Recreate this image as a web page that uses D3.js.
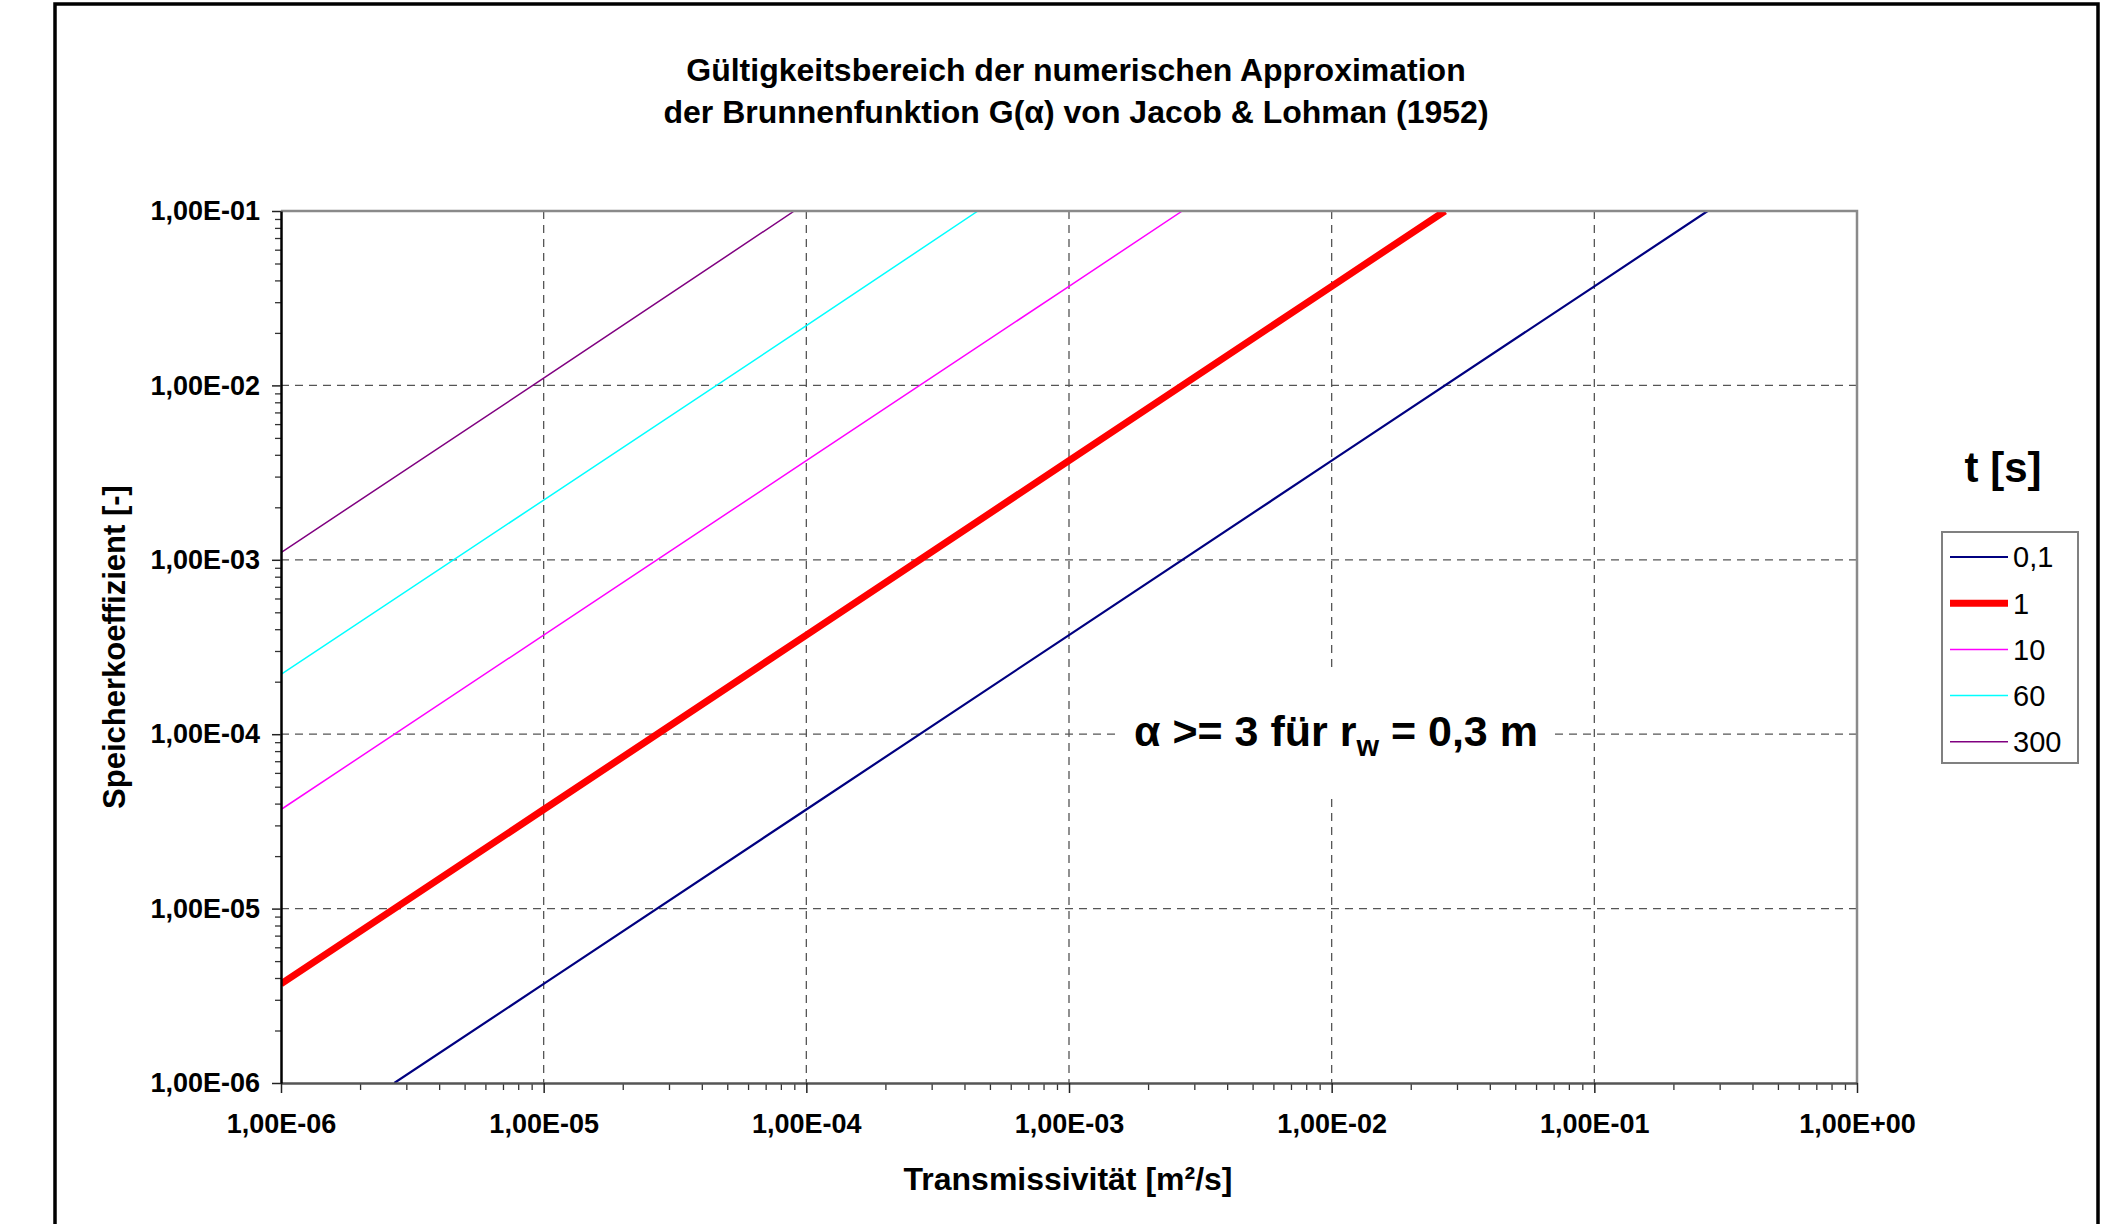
<!DOCTYPE html>
<html>
<head>
<meta charset="utf-8">
<script src="https://cdn.jsdelivr.net/npm/d3@7"></script>
<style>
    body { margin: 0; background: #fff; }
    #chart-area { width: 2109px; height: 1224px; }
    text { font-family: "Liberation Sans", Arial, sans-serif; }
</style>
</head>
<body>
<div id="chart-area"></div>
<script>
// t [s] of each curve (legend order)
const timeLabels = ["0,1", "1", "10", "60", "300"];

// Transmissivität [m²/s] / Speicherkoeffizient [-] points
const t01Trans = [2.7e-6, 1e-5, 1e-4, 1e-3, 1e-2, 1e-1, 2.7e-1];
const t01Stor = [1e-6, 3.7e-6, 3.7e-5, 3.7e-4, 3.7e-3, 3.7e-2, 1e-1];

const t1Trans = [1e-6, 1e-5, 1e-4, 1e-3, 1e-2, 2.7e-2];
const t1Stor = [3.7e-6, 3.7e-5, 3.7e-4, 3.7e-3, 3.7e-2, 1e-1];

const t10Trans = [1e-6, 1e-5, 1e-4, 1e-3, 2.7e-3];
const t10Stor = [3.7e-5, 3.7e-4, 3.7e-3, 3.7e-2, 1e-1];

const t60Trans = [1e-6, 1e-5, 1e-4, 4.5e-4];
const t60Stor = [2.2e-4, 2.2e-3, 2.2e-2, 1e-1];

const t300Trans = [1e-6, 1e-5, 9e-5];
const t300Stor = [1.1e-3, 1.1e-2, 1e-1];

// axis ticks
const xTicks = [1e-6, 1e-5, 1e-4, 1e-3, 1e-2, 1e-1, 1e0];
const yTicks = [1e-6, 1e-5, 1e-4, 1e-3, 1e-2, 1e-1];

// styles
const lineColors = ["#000080", "#ff0000", "#ff00ff", "#00ffff", "#800080"];
const lineWidths = [2.2, 7, 1.5, 1.5, 1.5];


ValidityChart = function(_parentElement) {
    this.parentElement = _parentElement;
    this.initVis();
};

ValidityChart.prototype.initVis = function() {
    var vis = this;

    vis.width = 2109;
    vis.height = 1224;
    vis.left = 281;
    vis.right = 1857;
    vis.top = 211;
    vis.bottom = 1083;

    vis.svg = d3.select("#" + vis.parentElement)
        .append("svg")
        .attr("width", vis.width)
        .attr("height", vis.height);

    vis.x = d3.scaleLog().domain([1e-6, 1]).range([vis.left, vis.right]);
    vis.y = d3.scaleLog().domain([1e-6, 1e-1]).range([vis.bottom, vis.top]);

    vis.series = [
        t01Trans.map((d, i) => ({ T: d, S: t01Stor[i] })),
        t1Trans.map((d, i) => ({ T: d, S: t1Stor[i] })),
        t10Trans.map((d, i) => ({ T: d, S: t10Stor[i] })),
        t60Trans.map((d, i) => ({ T: d, S: t60Stor[i] })),
        t300Trans.map((d, i) => ({ T: d, S: t300Stor[i] }))
    ];

    // outer chart frame (cut off at the bottom)
    vis.svg.append("path")
        .attr("d", `M55,${vis.height} L55,4 L2098,4 L2098,${vis.height}`)
        .attr("fill", "none")
        .attr("stroke", "#000")
        .attr("stroke-width", 3.5);

    // title
    const title = vis.svg.append("text")
        .attr("text-anchor", "middle")
        .attr("font-size", "32px")
        .attr("font-weight", "bold");
    title.append("tspan").attr("x", 1076).attr("y", 81)
        .text("Gültigkeitsbereich der numerischen Approximation");
    title.append("tspan").attr("x", 1076).attr("y", 123)
        .text("der Brunnenfunktion G(α) von Jacob & Lohman (1952)");

    vis.drawGrid();
    vis.drawAnnotation();
    vis.drawLines();
    vis.drawAxes();
    vis.drawLegend();
};

ValidityChart.prototype.drawGrid = function() {
    var vis = this;

    const grid = vis.svg.append("g")
        .attr("stroke", "#555")
        .attr("stroke-width", 1.3)
        .attr("stroke-dasharray", "8,6");

    grid.selectAll(".vgrid")
        .data(xTicks.slice(1, -1))
        .enter()
        .append("line")
        .attr("x1", d => vis.x(d))
        .attr("x2", d => vis.x(d))
        .attr("y1", vis.top)
        .attr("y2", vis.bottom);

    grid.selectAll(".hgrid")
        .data(yTicks.slice(1, -1))
        .enter()
        .append("line")
        .attr("x1", vis.left)
        .attr("x2", vis.right)
        .attr("y1", d => vis.y(d))
        .attr("y2", d => vis.y(d));
};

ValidityChart.prototype.drawAnnotation = function() {
    var vis = this;

    // white box behind the text hides the grid
    vis.svg.append("rect")
        .attr("x", 1117)
        .attr("y", 673)
        .attr("width", 438)
        .attr("height", 122)
        .attr("fill", "#fff");

    const note = vis.svg.append("text")
        .attr("x", 1336)
        .attr("y", 746)
        .attr("text-anchor", "middle")
        .attr("font-size", "43px")
        .attr("font-weight", "bold");
    note.append("tspan").text("α >= 3 für r");
    note.append("tspan").attr("dy", 10).attr("font-size", "29px").text("w");
    note.append("tspan").attr("dy", -10).text(" = 0,3 m");
};

ValidityChart.prototype.drawLines = function() {
    var vis = this;

    vis.svg.append("clipPath")
        .attr("id", "plot-clip")
        .append("rect")
        .attr("x", vis.left)
        .attr("y", vis.top)
        .attr("width", vis.right - vis.left)
        .attr("height", vis.bottom - vis.top);

    const line = d3.line()
        .x(d => vis.x(d.T))
        .y(d => vis.y(d.S));

    vis.svg.append("g")
        .attr("clip-path", "url(#plot-clip)")
        .selectAll("path")
        .data(vis.series)
        .enter()
        .append("path")
        .attr("d", line)
        .attr("fill", "none")
        .attr("stroke", (d, i) => lineColors[i])
        .attr("stroke-width", (d, i) => lineWidths[i]);
};

ValidityChart.prototype.drawAxes = function() {
    var vis = this;

    const fmt = v => {
        const e = Math.round(Math.log10(v));
        return "1,00E" + (e < 0 ? "-" : "+") + String(Math.abs(e)).padStart(2, "0");
    };

    // minor ticks 2..9 of every decade
    const minorX = [];
    xTicks.slice(0, -1).forEach(d => d3.range(2, 10).forEach(k => minorX.push(d * k)));
    const minorY = [];
    yTicks.slice(0, -1).forEach(d => d3.range(2, 10).forEach(k => minorY.push(d * k)));

    // plot border top / right
    vis.svg.append("path")
        .attr("d", `M${vis.left},${vis.top} L${vis.right},${vis.top} L${vis.right},${vis.bottom}`)
        .attr("fill", "none")
        .attr("stroke", "#8a8a8a")
        .attr("stroke-width", 2.5);

    // x axis
    const xMinor = vis.svg.append("g")
        .attr("transform", `translate(0,${vis.bottom})`)
        .call(d3.axisBottom(vis.x).tickValues(minorX).tickSize(7).tickFormat(""));
    xMinor.select(".domain").remove();
    xMinor.selectAll("line").attr("stroke", "#333").attr("stroke-width", 1.3);

    const xAxis = vis.svg.append("g")
        .attr("transform", `translate(0,${vis.bottom})`)
        .call(d3.axisBottom(vis.x).tickValues(xTicks).tickSize(10).tickSizeOuter(0)
            .tickPadding(21).tickFormat(fmt));
    xAxis.select(".domain").attr("stroke", "#555").attr("stroke-width", 2.5);
    xAxis.selectAll("line").attr("stroke", "#222").attr("stroke-width", 1.5);
    xAxis.selectAll("text")
        .attr("font-size", "27px")
        .attr("font-weight", "bold")
        .attr("fill", "#000");

    // y axis
    const yMinor = vis.svg.append("g")
        .attr("transform", `translate(${vis.left},0)`)
        .call(d3.axisLeft(vis.y).tickValues(minorY).tickSize(6).tickFormat(""));
    yMinor.select(".domain").remove();
    yMinor.selectAll("line").attr("stroke", "#333").attr("stroke-width", 1.3);

    const yAxis = vis.svg.append("g")
        .attr("transform", `translate(${vis.left},0)`)
        .call(d3.axisLeft(vis.y).tickValues(yTicks).tickSize(9).tickSizeOuter(0)
            .tickPadding(12).tickFormat(fmt));
    yAxis.select(".domain").attr("stroke", "#000").attr("stroke-width", 2.5);
    yAxis.selectAll("line").attr("stroke", "#222").attr("stroke-width", 1.5);
    yAxis.selectAll("text")
        .attr("font-size", "27px")
        .attr("font-weight", "bold")
        .attr("fill", "#000");

    // axis titles
    vis.svg.append("text")
        .attr("x", 1068)
        .attr("y", 1190)
        .attr("text-anchor", "middle")
        .attr("font-size", "32px")
        .attr("font-weight", "bold")
        .text("Transmissivität [m²/s]");

    vis.svg.append("text")
        .attr("transform", `translate(125,${(vis.top + vis.bottom) / 2}) rotate(-90)`)
        .attr("text-anchor", "middle")
        .attr("font-size", "31px")
        .attr("font-weight", "bold")
        .text("Speicherkoeffizient [-]");
};

ValidityChart.prototype.drawLegend = function() {
    var vis = this;

    vis.svg.append("text")
        .attr("x", 2003)
        .attr("y", 482)
        .attr("text-anchor", "middle")
        .attr("font-size", "42px")
        .attr("font-weight", "bold")
        .text("t [s]");

    const legend = vis.svg.append("g");

    legend.append("rect")
        .attr("x", 1942)
        .attr("y", 532)
        .attr("width", 136)
        .attr("height", 231)
        .attr("fill", "#fff")
        .attr("stroke", "#808080")
        .attr("stroke-width", 2);

    timeLabels.forEach((label, i) => {
        const yPos = 557 + i * 46.2;

        legend.append("line")
            .attr("x1", 1950)
            .attr("x2", 2008)
            .attr("y1", yPos)
            .attr("y2", yPos)
            .attr("stroke", lineColors[i])
            .attr("stroke-width", lineWidths[i]);

        legend.append("text")
            .attr("x", 2013)
            .attr("y", yPos)
            .attr("dy", "0.36em")
            .attr("font-size", "29px")
            .text(label);
    });
};

new ValidityChart("chart-area");
</script>
</body>
</html>
